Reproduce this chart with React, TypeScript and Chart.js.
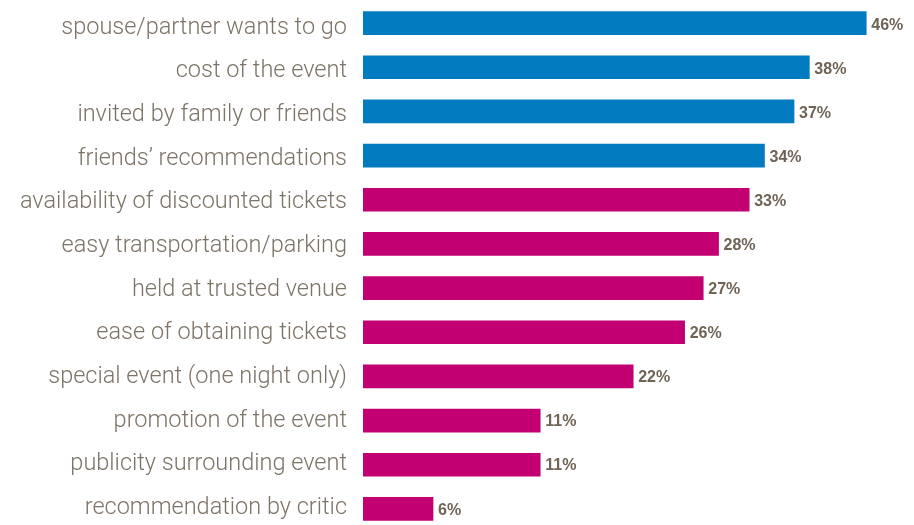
import React, { useEffect, useRef } from "react";
import { Chart, registerables } from "chart.js";

Chart.register(...registerables);

const categories: string[] = [
  "spouse/partner wants to go",
  "cost of the event",
  "invited by family or friends",
  "friends’ recommendations",
  "availability of discounted tickets",
  "easy transportation/parking",
  "held at trusted venue",
  "ease of obtaining tickets",
  "special event (one night only)",
  "promotion of the event",
  "publicity surrounding event",
  "recommendation by critic",
];

// bar lengths as drawn in the picture (in % units, scaled to the top bar)
const barLengths: number[] = [46, 40.8, 39.4, 36.7, 35.3, 32.5, 31.1, 29.4, 24.7, 16.2, 16.2, 6.4];

// percentages printed next to each bar
const printedLabels: string[] = ["46%", "38%", "37%", "34%", "33%", "28%", "27%", "26%", "22%", "11%", "11%", "6%"];

const BLUE = "#037bc1";
const MAGENTA = "#c30072";
const barColors: string[] = categories.map((_, i) => (i < 4 ? BLUE : MAGENTA));

const labelPlugin = {
  id: "labels",
  afterDatasetsDraw(chart: any) {
    const ctx = chart.ctx;
    const meta = chart.getDatasetMeta(0);
    const left = chart.chartArea.left;
    ctx.save();
    ctx.textBaseline = "alphabetic";
    // category labels
    ctx.font = "300 23.5px Roboto, 'Liberation Sans', sans-serif";
    ctx.fillStyle = "#7d7366";
    ctx.textAlign = "right";
    meta.data.forEach((bar: any, i: number) => {
      ctx.fillText(categories[i], left - 16, bar.y + 10.5 - 0.5 * i);
    });
    // value labels
    ctx.font = "bold 16px 'Liberation Sans', Arial, sans-serif";
    ctx.fillStyle = "#6e6355";
    ctx.textAlign = "left";
    meta.data.forEach((bar: any, i: number) => {
      ctx.fillText(printedLabels[i], bar.x + 5, bar.y + 6.7 - 0.1 * i);
    });
    ctx.restore();
  },
};

export default function App() {
  const canvasRef = useRef<HTMLCanvasElement | null>(null);

  useEffect(() => {
    if (!canvasRef.current) return;
    const chart = new Chart(canvasRef.current, {
      type: "bar",
      data: {
        labels: categories,
        datasets: [
          {
            data: barLengths,
            backgroundColor: barColors,
            borderWidth: 0,
            barThickness: 23,
          },
        ],
      },
      options: {
        indexAxis: "y",
        animation: false,
        responsive: true,
        maintainAspectRatio: false,
        layout: { padding: { top: 1, bottom: 0, left: 0, right: 4 } },
        plugins: {
          legend: { display: false },
          tooltip: { enabled: false },
        },
        scales: {
          x: {
            display: false,
            min: 0,
            max: 50,
          },
          y: {
            grid: { display: false, drawTicks: false },
            border: { display: false },
            ticks: { display: false },
            afterFit(scale: any) {
              scale.width = 363;
              scale.paddingTop = 0;
              scale.paddingBottom = 0;
            },
          },
        },
      },
      plugins: [labelPlugin],
    });
    return () => chart.destroy();
  }, []);

  return (
    <div style={{ position: "fixed", top: 0, left: 0, width: 914, height: 531, background: "#fff" }}>
      <canvas ref={canvasRef} />
    </div>
  );
}
